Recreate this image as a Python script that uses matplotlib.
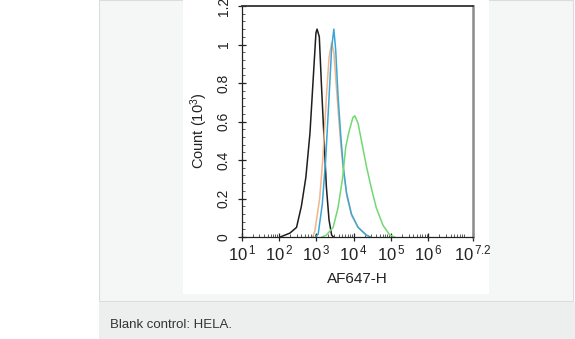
import numpy as np
import matplotlib
matplotlib.use("Agg")
import matplotlib.pyplot as plt
from matplotlib.patches import Rectangle
from matplotlib.ticker import LogLocator, MultipleLocator, NullFormatter

plt.rcParams['font.family'] = ['Liberation Sans', 'DejaVu Sans']
plt.rcParams['mathtext.fontset'] = 'custom'
plt.rcParams['mathtext.rm'] = 'Liberation Sans'
plt.rcParams['mathtext.it'] = 'Liberation Sans:italic'

# histogram outlines: log10(intensity), count (10^3)
black_log = [2.03, 2.29, 2.47, 2.60, 2.72, 2.83, 2.91, 2.99, 3.02, 3.08, 3.14, 3.20, 3.27, 3.34, 3.41, 3.46]
black_cnt = [0.00, 0.02, 0.05, 0.16, 0.31, 0.54, 0.80, 1.06, 1.08, 1.04, 0.78, 0.54, 0.26, 0.09, 0.01, 0.00]

orange_log = [2.90, 2.96, 3.09, 3.18, 3.27, 3.34, 3.41, 3.47, 3.53, 3.60, 3.66, 3.73, 3.82, 3.95, 4.12, 4.34, 4.45]
orange_cnt = [0.00, 0.03, 0.20, 0.42, 0.73, 0.93, 1.01, 0.96, 0.80, 0.62, 0.47, 0.34, 0.21, 0.11, 0.05, 0.01, 0.00]

blue_log = [2.98, 3.05, 3.16, 3.25, 3.34, 3.41, 3.47, 3.52, 3.58, 3.65, 3.72, 3.81, 3.94, 4.12, 4.34, 4.45]
blue_cnt = [0.00, 0.015, 0.17, 0.40, 0.72, 0.98, 1.08, 0.97, 0.74, 0.54, 0.37, 0.23, 0.12, 0.05, 0.01, 0.00]

green_log = [3.15, 3.27, 3.45, 3.58, 3.70, 3.79, 3.88, 3.98, 4.03, 4.12, 4.24, 4.34, 4.48, 4.61, 4.79, 4.97, 5.10]
green_cnt = [0.00, 0.01, 0.05, 0.15, 0.30, 0.47, 0.55, 0.62, 0.63, 0.59, 0.47, 0.37, 0.25, 0.15, 0.06, 0.01, 0.00]

xtick_vals = [1e1, 1e2, 1e3, 1e4, 1e5, 1e6, 10**7.2]
xtick_labels = [r'$\mathregular{10^{\,1}}$', r'$\mathregular{10^{\,2}}$', r'$\mathregular{10^{\,3}}$',
                r'$\mathregular{10^{\,4}}$', r'$\mathregular{10^{\,5}}$', r'$\mathregular{10^{\,6}}$',
                r'$\mathregular{10^{\,7.2}}$']
ytick_vals = [0, 0.2, 0.4, 0.6, 0.8, 1.0, 1.2]
ytick_labels = ['0', '0.2', '0.4', '0.6', '0.8', '1', '1.2']

W, H = 575, 339
fig = plt.figure(figsize=(W / 100, H / 100), dpi=100)
fig.patch.set_facecolor('white')

def px_rect(x0, y0, x1, y1, **kw):
    fig.patches.append(Rectangle((x0 / W, 1 - y1 / H), (x1 - x0) / W, (y1 - y0) / H,
                                 transform=fig.transFigure, figure=fig, zorder=-10, **kw))

# page background panels
px_rect(99, 0, 573, 301, facecolor='#f5f6f6', edgecolor='#dcdcdc', linewidth=0.8)
px_rect(99, 302, 575, 339, facecolor='#edeeee', edgecolor='none')
px_rect(183, 0, 489, 294, facecolor='white', edgecolor='none')

ax = fig.add_axes([241.7 / W, 1 - 237 / H, (473 - 241.7) / W, (237 - 6) / H])
ax.set_facecolor('white')

ax.plot(10 ** np.array(black_log), black_cnt, color='#1e1e1e', lw=1.1)
ax.plot(10 ** np.array(orange_log), orange_cnt, color='#f2b58a', lw=1.1)
ax.plot(10 ** np.array(blue_log), blue_cnt, color='#3aa6d6', lw=1.1)
ax.plot(10 ** np.array(green_log), green_cnt, color='#72d872', lw=1.1)

ax.set_xscale('log')
ax.set_xlim(1e1, 10 ** 7.2)
ax.set_ylim(0, 1.2)

ax.set_xticks(xtick_vals)
ax.set_xticklabels(xtick_labels, fontsize=12, color='#222222')
ax.xaxis.set_minor_locator(LogLocator(base=10, subs=np.arange(2, 10), numticks=20))
ax.xaxis.set_minor_formatter(NullFormatter())
ax.set_yticks(ytick_vals)
ax.set_yticklabels(ytick_labels, fontsize=10, color='#222222', rotation=90, va='center')
ax.yaxis.set_minor_locator(MultipleLocator(0.04))

ax.tick_params(axis='both', which='major', direction='inout', length=6, width=0.9, color='#222222')
ax.tick_params(axis='both', which='minor', direction='in', length=2.5, width=0.6, color='#444444')
ax.tick_params(axis='x', which='major', pad=2)
ax.tick_params(axis='y', which='major', pad=5)

ax.spines['left'].set_color('#222222')
ax.spines['bottom'].set_color('#222222')
ax.spines['left'].set_linewidth(0.9)
ax.spines['bottom'].set_linewidth(0.9)
ax.spines['top'].set_color('#333333')
ax.spines['top'].set_linewidth(1.3)
ax.spines['right'].set_color('#8a8a8a')
ax.spines['right'].set_linewidth(1.8)

ax.set_xlabel('AF647-H', fontsize=11, color='#222222', labelpad=6)
ax.set_ylabel(r'Count (10$\mathregular{^{3}}$)', fontsize=10.5, color='#222222')
ax.yaxis.set_label_coords(-0.135, 0.46)

fig.text(110 / W, 1 - 325 / H, 'Blank control: HELA.', fontsize=9.5, color='#333333', va='center', ha='left')

fig.savefig('out.png', dpi=100)
